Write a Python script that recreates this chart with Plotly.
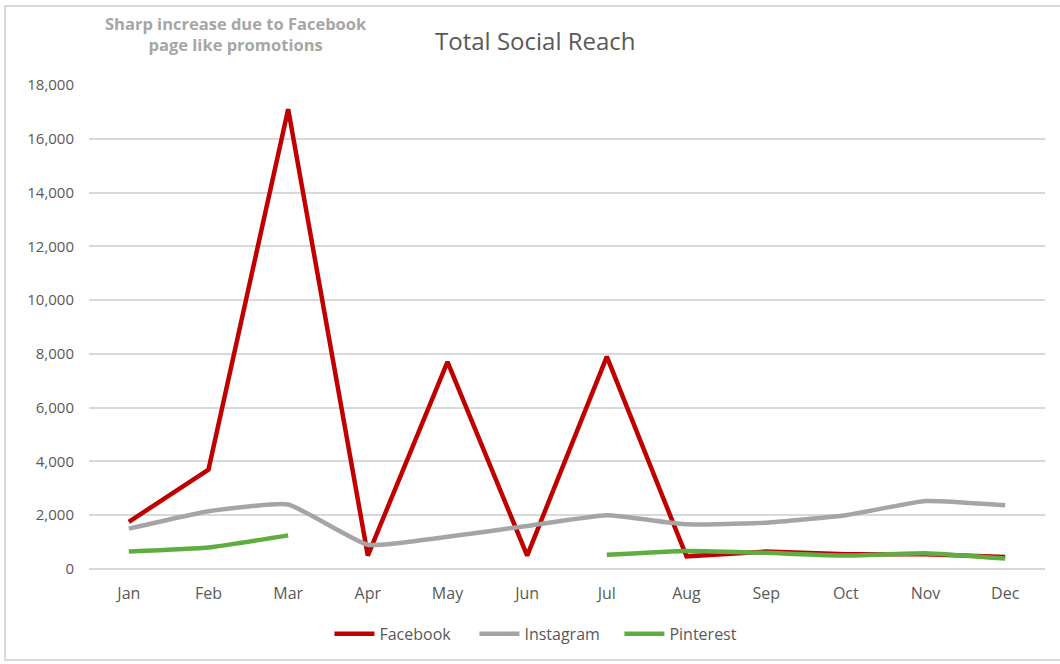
import plotly.graph_objects as go

months = ["Jan", "Feb", "Mar", "Apr", "May", "Jun", "Jul", "Aug", "Sep", "Oct", "Nov", "Dec"]
facebook = [1750, 3700, 17100, 500, 7700, 500, 7900, 470, 650, 550, 550, 450]
instagram = [1500, 2150, 2400, 900, 1200, 1600, 2000, 1660, 1720, 2000, 2530, 2370]
pinterest = [650, 800, 1250, None, None, None, 530, 670, 600, 500, 590, 390]
y_ticks = [0, 2000, 4000, 6000, 8000, 10000, 12000, 14000, 16000, 18000]

fig = go.Figure()
fig.add_trace(go.Scatter(x=months, y=facebook, name="Facebook", mode="lines",
                         line=dict(color="#c00000", width=4.5)))
fig.add_trace(go.Scatter(x=months, y=instagram, name="Instagram", mode="lines",
                         line=dict(color="#a5a5a5", width=4.5, shape="spline", smoothing=0.4)))
fig.add_trace(go.Scatter(x=months, y=pinterest, name="Pinterest", mode="lines",
                         connectgaps=False,
                         line=dict(color="#5fad41", width=4.5, shape="spline", smoothing=0.4)))

font_family = "Open Sans, Noto Sans, sans-serif"
fig.update_layout(
    width=1060, height=664,
    margin=dict(l=89, r=15, t=85, b=95),
    paper_bgcolor="white", plot_bgcolor="white",
    font=dict(family=font_family, color="#595959", size=13),
    title=dict(text="Total Social Reach", x=0.505, xanchor="center", y=0.937, yanchor="middle",
               font=dict(size=24, color="#595959", family=font_family)),
    showlegend=True,
    legend=dict(orientation="h", x=0.479, xanchor="center", y=-0.134, yanchor="middle",
                font=dict(size=16, color="#595959"), itemwidth=40,
                entrywidth=90, entrywidthmode="pixels"),
    xaxis=dict(showgrid=False, showline=False, ticks="", range=[-0.5, 11.5], automargin=False,
               ticklabelstandoff=13, tickfont=dict(size=16, color="#595959")),
    yaxis=dict(range=[0, 18000], tickvals=y_ticks, tickformat=",", showline=False, automargin=False,
               gridcolor="#d9d9d9", gridwidth=1.5, zeroline=True, zerolinecolor="#d9d9d9",
               zerolinewidth=1.5, ticks="", ticklabelstandoff=14,
               tickfont=dict(size=15, color="#595959")),
    shapes=[dict(type="rect", xref="paper", yref="paper", x0=-0.0879, x1=1.02, y0=-0.188, y1=1.163,
                 line=dict(color="#d9d9d9", width=2), fillcolor="rgba(0,0,0,0)", layer="below")],
    annotations=[dict(text="<b>Sharp increase due to Facebook<br>page like promotions</b>",
                      xref="paper", yref="paper", x=0.154, y=1.105, xanchor="center", yanchor="middle",
                      showarrow=False, align="center",
                      font=dict(size=16.5, color="#a6a6a6", family=font_family))],
)

fig.write_html("out.html", config={"displayModeBar": False},
               post_script="document.body.style.margin='0';document.body.style.overflow='hidden';")
